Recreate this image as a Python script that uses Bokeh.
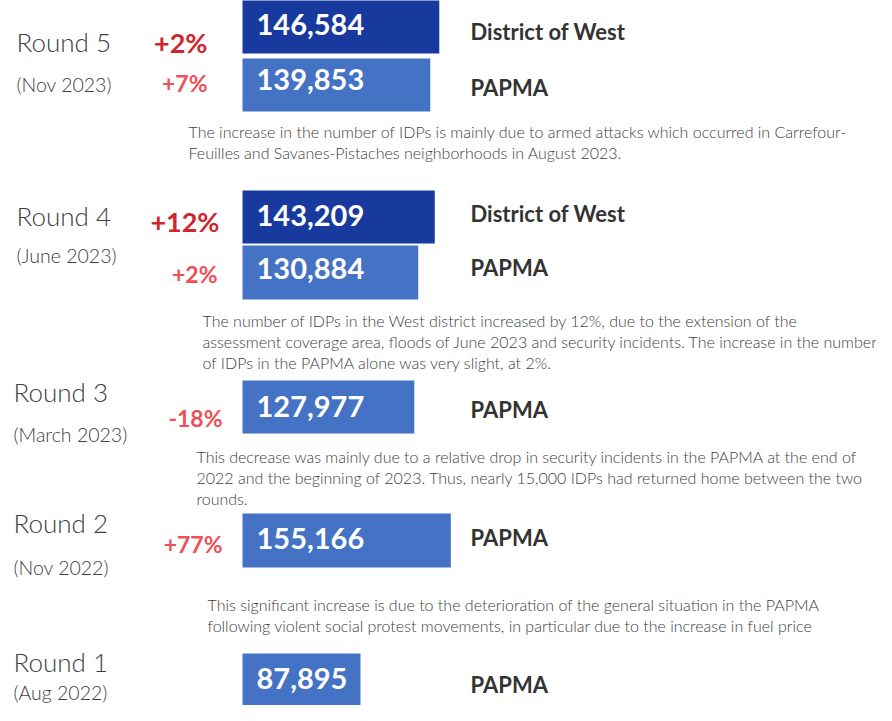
from bokeh.plotting import figure
from bokeh.models import Range1d, ColumnDataSource
from bokeh.core.properties import value
from bokeh.embed import file_html
from bokeh.resources import INLINE

# ---------------- data ----------------
rounds = ["Round 5", "Round 4", "Round 3", "Round 2", "Round 1"]
periods = ["(Nov 2023)", "(June 2023)", "(March 2023)", "(Nov 2022)", "(Aug 2022)"]
series_names = ["District of West", "PAPMA"]
west_values = [146584, 143209]            # Round 5, Round 4
papma_values = [139853, 130884, 127977, 155166, 87895]
west_change = ["+2%", "+12%"]
papma_change = ["+7%", "+2%", "-18%", "+77%", ""]
notes = [
    ["The increase in the number of IDPs is mainly due to armed attacks which occurred in Carrefour-",
     "Feuilles and Savanes-Pistaches neighborhoods in August 2023."],
    ["The number of IDPs in the West district increased by 12%, due to the extension of the",
     "assessment coverage area, floods of June 2023 and security incidents. The increase in the number",
     "of IDPs in the PAPMA alone was very slight, at 2%."],
    ["This decrease was mainly due to a relative drop in security incidents in the PAPMA at the end of",
     "2022 and the beginning of 2023. Thus, nearly 15,000 IDPs had returned home between the two",
     "rounds."],
    ["This significant increase is due to the deterioration of the general situation in the PAPMA",
     "following violent social protest movements, in particular due to the increase in fuel price"],
    [],
]

# ---------------- layout (pixel positions) ----------------
W, H = 876, 705
BAR_X0 = 242
PX_PER_UNIT = 1.3426 / 1000.0
BASE_FIX = 0.4   # svg text sits ~0.4 em lower than the requested baseline

west_bar_tb = [(-2, 53), (190, 243)]
papma_bar_tb = [(58, 111), (245, 299), (380, 433), (513, 567), (653, 705)]
west_val_base = [36, 227]
papma_val_base = [91, 280, 418, 550, 690]
west_lab_base = [40, 222]
papma_lab_base = [96, 276, 418, 546, 693]
round_x = [16, 16, 13, 13, 13]
round_base = [52, 226, 402, 533, 672]
period_base = [92, 263, 442, 575, 700]
west_chg_pos = [(207, 53, 27), (219, 232, 27)]
papma_chg_pos = [(207, 92, 23), (217, 283, 23), (222, 427, 23), (222, 553, 23), (222, 690, 23)]
note_x = [188, 202, 196, 207, 207]
note_first_base = [137, 326, 462, 610, 0]
NOTE_LH = 21

DARK_BLUE = "#183a9e"
LIGHT_BLUE = "#4472c4"
DARK_RED = "#d0242e"
LIGHT_RED = "#ee5057"
GREY = "#404040"
LABEL = "#333333"
FONT = "Lato"
LIGHT_FONT = "Lato Light"

p = figure(width=W, height=H, output_backend="svg", toolbar_location=None,
           x_range=Range1d(0, W), y_range=Range1d(H, 0),
           min_border=0, outline_line_color=None, background_fill_color="white")
p.xaxis.visible = False
p.yaxis.visible = False
p.grid.visible = False
p.extra_x_ranges = {"val": Range1d(-BAR_X0 / PX_PER_UNIT, (W - BAR_X0) / PX_PER_UNIT)}

# bars
wsrc = ColumnDataSource(dict(left=[0] * len(west_values), right=west_values,
                             top=[t for t, b in west_bar_tb], bottom=[b for t, b in west_bar_tb]))
psrc = ColumnDataSource(dict(left=[0] * len(papma_values), right=papma_values,
                             top=[t for t, b in papma_bar_tb], bottom=[b for t, b in papma_bar_tb]))
p.quad(left="left", right="right", top="top", bottom="bottom", source=wsrc,
       x_range_name="val", fill_color=DARK_BLUE, line_color=None)
p.quad(left="left", right="right", top="top", bottom="bottom", source=psrc,
       x_range_name="val", fill_color=LIGHT_BLUE, line_color=None)


def txt(xs, ys, texts, size, color, style="normal", align="left", font=FONT):
    ys = [y - BASE_FIX * size for y in ys]
    src = ColumnDataSource(dict(x=xs, y=ys, t=texts))
    p.text(x="x", y="y", text="t", source=src, text_font=value(font),
           text_font_size=f"{size}px", text_color=color, text_font_style=style,
           text_align=align, text_baseline="alphabetic")


# value labels inside bars
txt([BAR_X0 + 14] * len(west_values), west_val_base, [f"{v:,}" for v in west_values], 29, "white", "bold")
txt([BAR_X0 + 14] * len(papma_values), papma_val_base, [f"{v:,}" for v in papma_values], 29, "white", "bold")

# series labels
txt([470] * len(west_values), west_lab_base, [series_names[0]] * len(west_values), 22, LABEL, "bold")
txt([470] * len(papma_values), papma_lab_base, [series_names[1]] * len(papma_values), 22, LABEL, "bold")

# round / period labels
txt(round_x, round_base, rounds, 26, GREY, font=LIGHT_FONT)
txt(round_x, period_base, periods, 19.5, GREY, font=LIGHT_FONT)

# changes
for (x, y, s), c in zip(west_chg_pos, west_change):
    txt([x], [y], [c], s, DARK_RED, "bold", "right")
for (x, y, s), c in zip(papma_chg_pos, papma_change):
    if c:
        txt([x], [y], [c], s, LIGHT_RED, "bold", "right")

# notes
nx, ny, nt = [], [], []
for i, lines in enumerate(notes):
    for j, line in enumerate(lines):
        nx.append(note_x[i])
        ny.append(note_first_base[i] + j * NOTE_LH)
        nt.append(line)
txt(nx, ny, nt, 16, GREY, font=LIGHT_FONT)

open("out.html", "w").write(file_html(p, INLINE))
